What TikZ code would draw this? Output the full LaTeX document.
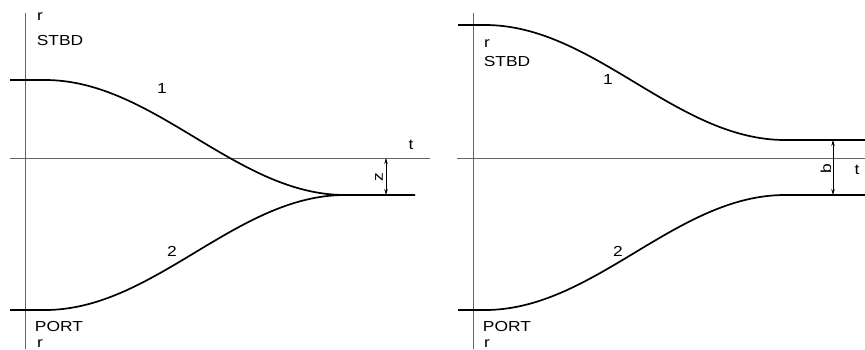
\documentclass[tikz,border=0pt]{standalone}
\usepackage{fontspec}
\setmainfont{Liberation Sans}[FakeStretch=1.2]
\usetikzlibrary{arrows.meta}
\begin{document}
\begin{tikzpicture}[x=1pt, y=-1pt, font=\fontsize{14.5}{17}\selectfont,
        axis/.style={draw=black!60, line width=0.8pt},
        curve/.style={draw=black, line width=1.7pt},
        dim/.style={draw=black, line width=0.6pt,
                    {Stealth[length=6pt,width=3.5pt]}-{Stealth[length=6pt,width=3.5pt]}},
        lbl/.style={inner sep=0pt}]
      \useasboundingbox (0,0) rectangle (865,349);
      % left diagram: z
      \coordinate (axL1) at (25,13);   \coordinate (axL2) at (25,349);
      \coordinate (tL1)  at (10,158);  \coordinate (tL2)  at (430,158);
      \draw[axis] (axL1) -- (axL2);
      \draw[axis] (tL1)  -- (tL2);
      \coordinate (c1L0) at (10,80);   \coordinate (c1L1) at (45,80);
      \coordinate (c2L0) at (10,310);  \coordinate (c2L1) at (45,310);
      \coordinate (mL)   at (345,195); \coordinate (mLe)  at (415,195);
      \draw[curve] (c1L0) -- (c1L1) .. controls (154,80) and (236,195) .. (mL) -- (mLe);
      \draw[curve] (c2L0) -- (c2L1) .. controls (154,310) and (236,195) .. (mL);
      \coordinate (zTop) at (386,158); \coordinate (zBot) at (386,195);
      \draw[dim] (zTop) -- (zBot);
      \node[lbl]           (rTopL) at (40,17)   {r};
      \node[lbl]           (stbdL) at (60,41)   {STBD};
      \node[lbl]           (oneL)  at (162,89)  {1};
      \node[lbl]           (twoL)  at (172,251) {2};
      \node[lbl]           (tL)    at (411,145) {t};
      \node[lbl, rotate=90](zL)    at (379,177) {z};
      \node[lbl]           (portL) at (59,327)  {PORT};
      \node[lbl]           (rBotL) at (40,344)  {r};
      % right diagram: b
      \coordinate (axR1) at (473,13);  \coordinate (axR2) at (473,349);
      \coordinate (tR1)  at (457,158); \coordinate (tR2)  at (865,158);
      \draw[axis] (axR1) -- (axR2);
      \draw[axis] (tR1)  -- (tR2);
      \coordinate (c1R0) at (458,25);  \coordinate (c1R1) at (485,25);
      \coordinate (c1R2) at (785,140); \coordinate (c1R3) at (865,140);
      \coordinate (c2R0) at (458,310); \coordinate (c2R1) at (485,310);
      \coordinate (c2R2) at (785,195); \coordinate (c2R3) at (865,195);
      \draw[curve] (c1R0) -- (c1R1) .. controls (594,25) and (676,140) .. (c1R2) -- (c1R3);
      \draw[curve] (c2R0) -- (c2R1) .. controls (594,310) and (676,195) .. (c2R2) -- (c2R3);
      \coordinate (bTop) at (833,140); \coordinate (bBot) at (833,195);
      \draw[dim] (bTop) -- (bBot);
      \node[lbl]           (rTopR) at (487,44)  {r};
      \node[lbl]           (stbdR) at (507,62)  {STBD};
      \node[lbl]           (oneR)  at (608,80)  {1};
      \node[lbl]           (twoR)  at (618,251) {2};
      \node[lbl]           (tR)    at (857,170) {t};
      \node[lbl, rotate=90](bR)    at (826,169) {b};
      \node[lbl]           (portR) at (507,327) {PORT};
      \node[lbl]           (rBotR) at (487,344) {r};
    \end{tikzpicture}
\end{document}
